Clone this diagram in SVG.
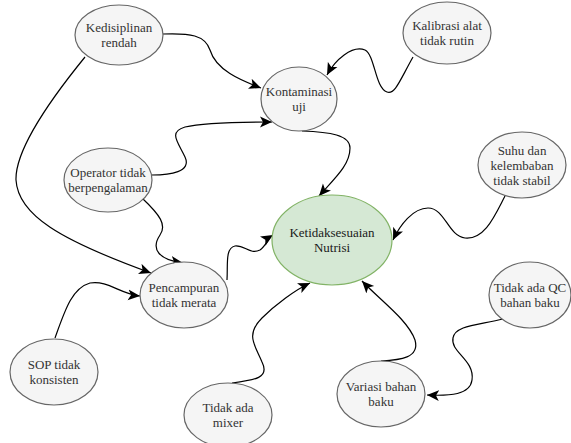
<svg xmlns="http://www.w3.org/2000/svg" width="571" height="443" viewBox="0 0 571 443">
<style>
.n{fill:#f5f5f5;stroke:#666;stroke-width:1.2}
.g{fill:#d5e8d4;stroke:#82b366;stroke-width:1.2}
text{font-family:"Liberation Serif","Times New Roman",Times,Tinos,"DejaVu Serif","Noto Serif",serif;font-size:13px;text-anchor:middle;fill:#333}
.gt{fill:#1a1a1a}
.e{fill:none;stroke:#000;stroke-width:1.2;marker-end:url(#a)}
</style>
<defs>
<marker id="a" markerUnits="userSpaceOnUse" markerWidth="12" markerHeight="12" refX="10" refY="5" orient="auto" viewBox="0 0 10 10">
<path d="M0,0.5 L10,5 L0,9.5 L2.5,5 z" fill="#000"/>
</marker>
</defs>
<rect width="571" height="443" fill="#fff"/>
<g id="connectors">
<path class="e" d="M163,34 C190,33 205,35 210,50 C216,70 240,80 261,88"/>
<path class="e" d="M413,57 C400,80 395,95 387,92 C375,88 375,55 365,50 C352,45 335,60 327,75"/>
<path class="e" d="M152,175 C170,175 192,172 185,157 C178,142 168,132 185,127 C205,122 245,122 272,122"/>
<path class="e" d="M302,131 C330,132 350,135 350,148 C350,165 335,178 319,196"/>
<path class="e" d="M505,196 C495,215 485,240 465,238 C448,236 445,208 428,208 C413,208 400,225 393,240"/>
<path class="e" d="M85,57 C50,100 15,150 16,180 C18,215 60,240 151,273"/>
<path class="e" d="M142,198 C160,215 167,225 160,235 C150,250 160,260 183,263"/>
<path class="e" d="M55,338 C65,310 72,288 90,283 C108,280 120,294 140,296"/>
<path class="e" d="M227,280 C228,265 225,248 235,246 C245,245 250,255 260,250 C266,246 268,238 273,235"/>
<path class="e" d="M232,383 C255,380 270,378 262,362 C255,345 245,335 262,318 C275,305 295,290 310,283"/>
<path class="e" d="M381,361 C400,360 420,358 415,340 C408,320 380,300 362,281"/>
<path class="e" d="M503,319 C480,325 455,325 453,338 C450,352 475,360 472,380 C470,395 450,396 427,395"/>
</g>
<g id="kedisiplinan"><ellipse class="n" cx="119" cy="35" rx="44" ry="30"/><text x="119" y="32">Kedisiplinan</text><text x="119" y="47">rendah</text></g>
<g id="kontaminasi"><ellipse class="n" cx="299" cy="99" rx="38" ry="32"/><text x="299" y="96">Kontaminasi</text><text x="299" y="111">uji</text></g>
<g id="kalibrasi"><ellipse class="n" cx="447" cy="33" rx="44" ry="31"/><text x="447" y="30">Kalibrasi alat</text><text x="447" y="45">tidak rutin</text></g>
<g id="operator"><ellipse class="n" cx="108" cy="180" rx="44" ry="32"/><text x="108" y="177">Operator tidak</text><text x="108" y="192">berpengalaman</text></g>
<g id="suhu"><ellipse class="n" cx="522" cy="165" rx="44" ry="33"/><text x="522" y="155">Suhu dan</text><text x="522" y="170">kelembaban</text><text x="522" y="185">tidak stabil</text></g>
<g id="ketidaksesuaian"><ellipse class="g" cx="332" cy="240" rx="60" ry="45"/><text class="gt" x="332" y="237">Ketidaksesuaian</text><text class="gt" x="332" y="252">Nutrisi</text></g>
<g id="pencampuran"><ellipse class="n" cx="184" cy="295" rx="44" ry="33"/><text x="184" y="292">Pencampuran</text><text x="184" y="307">tidak merata</text></g>
<g id="sop"><ellipse class="n" cx="54" cy="372" rx="44" ry="33"/><text x="54" y="369">SOP tidak</text><text x="54" y="384">konsisten</text></g>
<g id="mixer"><ellipse class="n" cx="228" cy="415" rx="44" ry="32"/><text x="228" y="412">Tidak ada</text><text x="228" y="427">mixer</text></g>
<g id="qc"><ellipse class="n" cx="530" cy="295" rx="41" ry="33"/><text x="530" y="292">Tidak ada QC</text><text x="530" y="307">bahan baku</text></g>
<g id="variasi"><ellipse class="n" cx="381" cy="394" rx="44" ry="33"/><text x="381" y="391">Variasi bahan</text><text x="381" y="406">baku</text></g>
</svg>
